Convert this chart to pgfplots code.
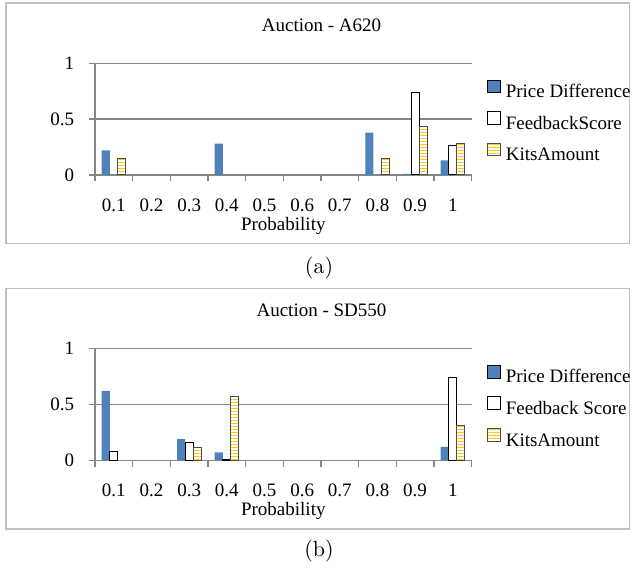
\documentclass[border=0pt]{standalone}
\usepackage{fontspec}
\setmainfont{Liberation Serif}
\newfontfamily\lmfont{Latin Modern Roman}
\usepackage{pgfplots}
\pgfplotsset{compat=1.18}
\usetikzlibrary{patterns.meta}

\definecolor{pdblue}{HTML}{4F81BD}
\definecolor{kitsyel}{HTML}{FFC000}
\definecolor{gridgray}{HTML}{868686}
\definecolor{framegray}{HTML}{BFBFBF}

\newcommand{\chartfont}{\fontsize{9.5}{11}\selectfont}

\pgfplotsset{
  auction/.style={
    scale only axis, width=188.3pt, height=55.9pt,
    anchor=south west,
    xmin=0.5, xmax=10.5, ymin=0, ymax=1,
    axis lines*=left,
    axis line style={gridgray, line width=0.6pt},
    ymajorgrids, grid style={gridgray, line width=0.6pt},
    ytick={0,0.5,1}, yticklabels={0,0.5,1},
    xtick={0.5,1.5,...,10.5}, xticklabels={},
    extra x ticks={1,2,3,4,5,6,7,8,9,10},
    extra x tick labels={0.1,0.2,0.3,0.4,0.5,0.6,0.7,0.8,0.9,1},
    extra x tick style={major tick length=0pt, grid=none},
    tick align=outside,
    major tick length=3.2pt,
    tick style={gridgray, line width=0.6pt},
    tick label style={font=\chartfont},
    xticklabel style={anchor=center, yshift=-15pt},
    yticklabel style={anchor=east, inner sep=0pt, xshift=-7pt},
    xlabel={Probability},
    xlabel style={font=\chartfont, at={(axis description cs:0.5,0)}, anchor=center, yshift=-25.5pt},
    ybar, bar width=0.215,
    legend style={draw=none, fill=none, inner sep=0pt, outer sep=0pt,
      at={(axis description cs:1.0414,0.853)}, anchor=north west,
      font=\chartfont, row sep=4.75pt, column sep=2.5pt,
      nodes={inner sep=0pt, text height=7pt, text depth=2pt}},
    legend cell align=left,
    legend image code/.code={\draw[##1] (0pt,0pt) rectangle (6.3pt,6.3pt);},
  },
  price/.style={fill=pdblue, draw=none, bar shift=-0.215},
  feedback/.style={fill=white, draw=black, line width=0.5pt, bar shift=0},
  kits/.style={fill=white, draw=black!70, line width=0.5pt, bar shift=0.215,
    postaction={pattern={Lines[angle=0,distance=1.5pt,line width=0.5pt]}, pattern color=kitsyel}},
}

\begin{document}
\begin{tikzpicture}
\useasboundingbox (0pt,0pt) rectangle (316.5pt,285.5pt);

% (a) Auction - A620
\draw[framegray, line width=0.75pt] (3pt,163.85pt) rectangle (314.75pt,284pt);
\node[font=\chartfont] at (160.75pt,273.1pt) {Auction - A620};
\begin{axis}[auction, at={(47.5pt,198pt)}]
  \addplot[price] coordinates {(1,0.22) (4,0.28) (8,0.38) (9,0.01) (10,0.13)};
  \addlegendentry{Price Difference}
  \addplot[feedback] coordinates {(9,0.74) (10,0.26)};
  \addlegendentry{FeedbackScore}
  \addplot[kits] coordinates {(1,0.15) (8,0.15) (9,0.43) (10,0.28)};
  \addlegendentry{KitsAmount}
\end{axis}
\node[font=\lmfont\fontsize{11}{13}\selectfont] at (159.5pt,151.5pt) {(a)};

% (b) Auction - SD550
\draw[framegray, line width=0.75pt] (3pt,21pt) rectangle (314.75pt,141.35pt);
\node[font=\chartfont] at (160.75pt,130.45pt) {Auction - SD550};
\begin{axis}[auction, at={(47.5pt,55.35pt)}]
  \addplot[price] coordinates {(1,0.62) (3,0.19) (4,0.07) (10,0.12)};
  \addlegendentry{Price Difference}
  \addplot[feedback] coordinates {(1,0.08) (3,0.16) (4,0.01) (10,0.74)};
  \addlegendentry{Feedback Score}
  \addplot[kits] coordinates {(3,0.11) (4,0.57) (10,0.31)};
  \addlegendentry{KitsAmount}
\end{axis}
\node[font=\lmfont\fontsize{11}{13}\selectfont] at (159.5pt,10pt) {(b)};
\end{tikzpicture}
\end{document}
